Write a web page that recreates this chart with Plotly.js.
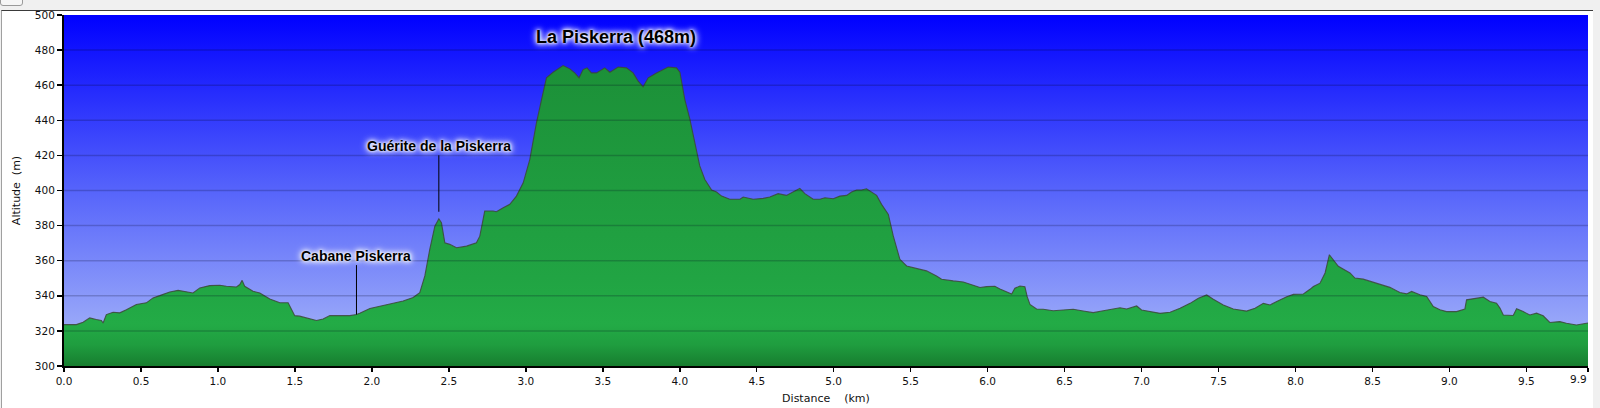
<!DOCTYPE html>
<html>
<head>
<meta charset="utf-8">
<script src="https://cdn.plot.ly/plotly-3.0.1.min.js"></script>
<style>
  html, body { margin:0; padding:0; background:#f0f0f0; width:1600px; height:408px; overflow:hidden; }
  #btn { position:absolute; left:0; top:-6px; width:21px; height:10px; border:1px solid #9a9a9a; border-radius:3px; background:#f6f6f6; }
  #panel { position:absolute; left:1px; top:10px; width:1591px; height:410px; background:#fff; border-left:1px solid #a0a0a0; border-top:1px solid #3a3a3a; }
  #chart { position:absolute; left:0; top:0; width:1600px; height:408px; }
</style>
</head>
<body>
<div id="btn"></div>
<div id="panel"></div>
<div id="chart"></div>
<script>
const distanceKm = [
  0.0, 0.08, 0.124, 0.167, 0.21, 0.243, 0.254, 0.275, 0.319, 0.362, 0.405, 0.47, 0.535, 0.578, 0.622,
  0.687, 0.741, 0.795, 0.838, 0.882, 0.947, 1.012, 1.055, 1.12, 1.142, 1.157, 1.174, 1.228, 1.272, 1.337,
  1.402, 1.456, 1.467, 1.499, 1.531, 1.575, 1.64, 1.683, 1.727, 1.792, 1.857, 1.9, 1.921, 1.987, 2.03,
  2.051, 2.116, 2.203, 2.268, 2.311, 2.344, 2.376, 2.409, 2.435, 2.452, 2.474, 2.506, 2.55, 2.615, 2.679,
  2.701, 2.733, 2.787, 2.809, 2.853, 2.896, 2.939, 2.983, 3.026, 3.069, 3.102, 3.134, 3.177, 3.242, 3.286,
  3.318, 3.346, 3.372, 3.398, 3.426, 3.459, 3.513, 3.546, 3.6, 3.654, 3.697, 3.73, 3.762, 3.795, 3.849,
  3.925, 3.979, 4.001, 4.033, 4.066, 4.109, 4.13, 4.163, 4.207, 4.239, 4.272, 4.325, 4.391, 4.412, 4.477,
  4.542, 4.585, 4.639, 4.693, 4.748, 4.78, 4.813, 4.867, 4.91, 4.943, 4.997, 5.04, 5.084, 5.116, 5.149,
  5.181, 5.213, 5.246, 5.279, 5.311, 5.355, 5.387, 5.43, 5.474, 5.517, 5.603, 5.668, 5.701, 5.777, 5.842,
  5.906, 5.95, 5.993, 6.047, 6.08, 6.123, 6.156, 6.177, 6.21, 6.242, 6.257, 6.275, 6.318, 6.361, 6.426,
  6.49, 6.556, 6.621, 6.686, 6.751, 6.816, 6.86, 6.903, 6.968, 7.0, 7.055, 7.12, 7.185, 7.25, 7.315,
  7.369, 7.423, 7.466, 7.531, 7.596, 7.682, 7.737, 7.791, 7.835, 7.878, 7.943, 7.986, 8.051, 8.094, 8.116,
  8.159, 8.192, 8.22, 8.246, 8.278, 8.354, 8.386, 8.44, 8.527, 8.613, 8.678, 8.722, 8.754, 8.808, 8.852,
  8.895, 8.938, 8.981, 9.046, 9.1, 9.111, 9.155, 9.22, 9.263, 9.306, 9.328, 9.35, 9.414, 9.436, 9.479,
  9.522, 9.566, 9.609, 9.652, 9.717, 9.76, 9.825, 9.89, 9.9
];
const altitudeM = [
  323.6, 323.6, 324.9, 327.4, 326.5, 325.9, 324.5, 329.3, 330.6, 330.3, 332.1, 335.0, 336.0, 338.8, 340.1,
  342.2, 343.1, 342.5, 341.6, 344.5, 345.8, 346.0, 345.4, 345.0, 346.4, 348.8, 345.4, 342.6, 341.6, 338.2,
  336.0, 336.0, 334.0, 328.7, 328.4, 327.4, 325.9, 326.8, 328.7, 328.7, 328.7, 329.3, 330.0, 332.8, 333.6,
  334.2, 335.5, 337.0, 339.0, 341.8, 351.3, 366.5, 379.7, 383.9, 381.6, 370.2, 369.3, 367.4, 368.3, 370.2,
  374.0, 388.3, 388.3, 387.9, 390.2, 392.1, 396.8, 404.4, 417.7, 438.6, 451.8, 464.2, 467.4, 471.2, 469.3,
  467.0, 464.2, 468.9, 469.9, 467.0, 467.0, 469.9, 467.4, 470.4, 469.9, 467.0, 462.3, 459.1, 464.2, 467.0,
  470.4, 469.9, 467.4, 451.8, 440.5, 423.4, 414.0, 406.3, 400.3, 399.1, 396.8, 395.0, 395.0, 396.3, 395.0,
  395.5, 396.3, 398.2, 397.2, 399.7, 401.2, 398.2, 395.0, 395.0, 395.9, 395.3, 396.8, 397.2, 399.1, 400.3,
  400.3, 401.0, 399.1, 397.2, 392.1, 386.4, 374.1, 360.8, 357.0, 356.0, 354.2, 351.3, 349.4, 348.5, 347.9,
  346.0, 344.7, 345.2, 345.4, 343.9, 342.4, 341.0, 344.3, 345.6, 345.2, 339.5, 335.1, 332.5, 332.3, 331.5,
  331.9, 332.3, 331.3, 330.4, 331.5, 332.5, 333.2, 332.5, 334.2, 331.9, 331.0, 330.0, 330.6, 332.9, 335.7,
  338.6, 340.5, 338.0, 334.8, 332.5, 331.3, 332.9, 335.7, 334.8, 336.7, 339.5, 340.8, 341.0, 343.7, 345.3,
  347.2, 353.0, 363.4, 360.6, 356.8, 353.0, 350.1, 349.5, 347.2, 344.8, 341.9, 341.1, 342.5, 340.6, 339.6,
  333.9, 332.0, 331.0, 331.0, 332.4, 337.7, 338.3, 339.2, 336.8, 335.8, 333.0, 329.1, 328.8, 332.6, 331.0,
  329.1, 330.1, 328.6, 324.8, 325.3, 324.4, 323.4, 324.4, 324.5
];

// tick labels (the last distance tick label is drawn right-aligned, as in the original)
const yTickVals = [300, 320, 340, 360, 380, 400, 420, 440, 460, 480, 500];
const xTickVals = [0, 0.5, 1, 1.5, 2, 2.5, 3, 3.5, 4, 4.5, 5, 5.5, 6, 6.5, 7, 7.5, 8, 8.5, 9, 9.5, 9.9];
const xTickText = ['0.0','0.5','1.0','1.5','2.0','2.5','3.0','3.5','4.0','4.5','5.0','5.5','6.0','6.5','7.0','7.5','8.0','8.5','9.0','9.5','9.9'];
const lastTickIndex = xTickVals.length - 1;

// points of interest
const poiNames = ['Cabane Piskerra', 'Guérite de la Piskerra'];
const poiKm = [1.9, 2.435];
const poiAlt = [329.3, 383.9];
const summitName = 'La Piskerra (468m)';
const summitKm = 3.585;
const summitLabelAlt = 487.4;

// ---- styling helpers ----
const bgSvg = '<svg xmlns="http://www.w3.org/2000/svg" width="100" height="100" viewBox="0 0 100 100" preserveAspectRatio="none">' +
  '<defs><linearGradient id="g" x1="0" y1="0" x2="0" y2="1">' +
  '<stop offset="0" stop-color="#0000ff"/><stop offset="0.5" stop-color="#5664fb"/><stop offset="1" stop-color="#adbcf8"/>' +
  '</linearGradient></defs><rect width="100" height="100" fill="url(#g)"/></svg>';
const bgSrc = 'data:image/svg+xml;charset=utf-8,' + encodeURIComponent(bgSvg);

const glow = '0 0 2px #fff, 0 0 4px #fff, 0 0 6px #fff, 0 0 8px #fff';

const trace = {
  x: distanceKm,
  y: altitudeM,
  type: 'scatter',
  mode: 'lines',
  fill: 'tozeroy',
  line: { color: 'rgba(60,72,55,0.85)', width: 1.1 },
  fillgradient: {
    type: 'vertical',
    start: 300,
    stop: 500,
    colorscale: [
      [0.0, '#177d2f'],
      [0.06, '#1f9d3f'],
      [0.12, '#23ab46'],
      [0.25, '#21a443'],
      [0.5, '#1f9c3f'],
      [0.85, '#1c9038'],
      [1.0, '#1b8c36']
    ]
  },
  hoverinfo: 'skip',
  showlegend: false
};

const gridShapes = yTickVals.filter(v => v > 300 && v < 500).map(v => ({
  type: 'line', xref: 'paper', x0: 0, x1: 1, yref: 'y', y0: v, y1: v,
  layer: 'above', line: { color: 'rgba(0,0,30,0.2)', width: 1.5 }
}));

const tickFont = { family: 'DejaVu Sans, Verdana, sans-serif', size: 10.5, color: '#111' };
const titleFont = { family: 'DejaVu Sans, Verdana, sans-serif', size: 11, color: '#111' };

const annotations = poiNames.map((name, i) => ({
  x: poiKm[i], y: poiAlt[i], xref: 'x', yref: 'y',
  text: name, showarrow: true, arrowhead: 0, arrowwidth: 1, arrowcolor: '#000',
  ax: 0, ay: i === 0 ? -59 : -73, standoff: i === 0 ? 0 : 7,
  font: { family: 'Liberation Sans, Arial, sans-serif', size: 14, weight: 'bold', color: '#000', shadow: glow }
}));
annotations.push({
  x: summitKm, y: summitLabelAlt, xref: 'x', yref: 'y', showarrow: false,
  text: summitName,
  font: { family: 'Liberation Sans, Arial, sans-serif', size: 18, weight: 'bold', color: '#000', shadow: glow }
});
// last x tick label, right-aligned to its tick
annotations.push({
  x: xTickVals[lastTickIndex], y: 0, xref: 'x', yref: 'paper', showarrow: false,
  xanchor: 'right', yanchor: 'middle', xshift: 1, yshift: -13,
  text: xTickText[lastTickIndex], font: tickFont
});
const xTickTextShown = xTickText.map((t, i) => i === lastTickIndex ? '' : t);

const layout = {
  width: 1600, height: 408,
  margin: { l: 64.3, r: 12, t: 15, b: 41.5, pad: 0 },
  paper_bgcolor: 'rgba(0,0,0,0)',
  plot_bgcolor: 'rgba(0,0,0,0)',
  images: [{ source: bgSrc, xref: 'paper', yref: 'paper', x: 0, y: 1, sizex: 1, sizey: 1,
             xanchor: 'left', yanchor: 'top', sizing: 'stretch', layer: 'below' }],
  xaxis: {
    range: [0, 9.9], tickvals: xTickVals, ticktext: xTickTextShown,
    ticks: 'outside', ticklen: 4, tickwidth: 1.5, tickcolor: '#000',
    showline: true, linecolor: '#000', linewidth: 2, showgrid: false, zeroline: false,
    tickfont: tickFont, fixedrange: true, ticklabeloverflow: 'allow',
    title: { text: 'Distance\u00a0\u00a0\u00a0\u00a0(km)', font: titleFont, standoff: 9 }
  },
  yaxis: {
    range: [300, 500], tickvals: yTickVals,
    ticks: 'outside', ticklen: 5, tickwidth: 1.5, tickcolor: '#000',
    showline: true, linecolor: '#000', linewidth: 2, showgrid: false, zeroline: false,
    tickfont: tickFont, fixedrange: true, ticklabeloverflow: 'allow',
    title: { text: 'Altitude\u00a0\u00a0(m)', font: titleFont, standoff: 12 }
  },
  shapes: gridShapes,
  annotations: annotations,
  showlegend: false
};

Plotly.newPlot('chart', [trace], layout, { staticPlot: true, displayModeBar: false });
</script>
</body>
</html>
